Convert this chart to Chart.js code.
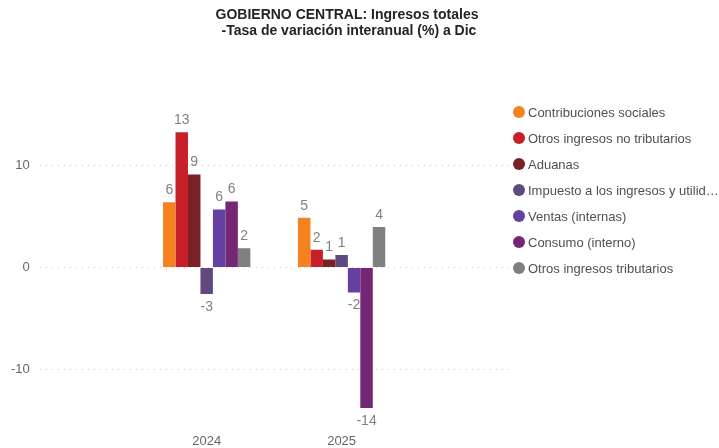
<!DOCTYPE html>
<html>
<head>
<meta charset="utf-8">
<script src="https://cdn.jsdelivr.net/npm/chart.js@4"></script>
<style>
  html, body { margin: 0; padding: 0; background: #fff; }
  #wrap { position: relative; width: 719px; height: 448px; }
  #title {
    position: absolute; left: 0; top: 6px; width: 694px;
    text-align: center; font: bold 14px "Liberation Sans", Arial, sans-serif;
    color: #252423; line-height: 16px;
  }
  #legend {
    position: absolute; left: 513px; top: 99px;
    font: 13px "Liberation Sans", Arial, sans-serif; color: #505050;
  }
  #legend .item { height: 26px; display: flex; align-items: center; white-space: nowrap; }
  #legend .dot { width: 12px; height: 12px; border-radius: 50%; margin-right: 3px; flex: none; }
</style>
</head>
<body>
<div id="wrap">
  <div id="title">GOBIERNO CENTRAL: Ingresos totales<br>&nbsp;-Tasa de variación interanual (%) a Dic</div>
  <canvas id="chart" width="719" height="448"></canvas>
  <div id="legend"></div>
</div>
<script>
// Years on the x axis
const years = [2024, 2025];

// Series names (legend order)
const seriesNames = [
    'Contribuciones sociales',
    'Otros ingresos no tributarios',
    'Aduanas',
    'Impuesto a los ingresos y utilidades',
    'Ventas (internas)',
    'Consumo (interno)',
    'Otros ingresos tributarios'
];

// Annual % change per series, [2024, 2025]
const contribuciones = [6.39, 4.86];
const otrosNoTrib = [13.24, 1.74];
const aduanas = [9.11, 0.79];
const impuestoRenta = [-2.59, 1.22];
const ventas = [5.67, -2.45];
const consumo = [6.46, -13.76];
const otrosTrib = [1.87, 3.97];

const yTicks = [-10, 0, 10];

const colors = ['#F58220', '#C8202A', '#7A2128', '#5E4A7E', '#6441A0', '#742774', '#808083'];
const seriesValues = [contribuciones, otrosNoTrib, aduanas, impuestoRenta, ventas, consumo, otrosTrib];

const FONT = '"Liberation Sans", Arial, sans-serif';

// draws rounded value labels above / below each bar
const valueLabels = {
    id: 'valueLabels',
    afterDatasetsDraw(chart) {
        const ctx = chart.ctx;
        ctx.save();
        ctx.font = '14px ' + FONT;
        ctx.fillStyle = '#808080';
        ctx.textAlign = 'center';
        chart.data.datasets.forEach((ds, i) => {
            const meta = chart.getDatasetMeta(i);
            meta.data.forEach((bar, j) => {
                const v = ds.data[j];
                const txt = String(Math.round(v));
                if (v >= 0) {
                    ctx.textBaseline = 'bottom';
                    ctx.fillText(txt, bar.x, bar.y - 5);
                } else {
                    ctx.textBaseline = 'top';
                    ctx.fillText(txt, bar.x, bar.y + 6);
                }
            });
        });
        ctx.restore();
    }
};

// HTML legend (the built-in one gets capped to a quarter of the width)
function buildLegend() {
    const box = document.getElementById('legend');
    seriesNames.forEach((name, i) => {
        const item = document.createElement('div');
        item.className = 'item';
        const dot = document.createElement('span');
        dot.className = 'dot';
        dot.style.background = colors[i];
        const txt = document.createElement('span');
        txt.textContent = name.length > 32 ? name.slice(0, 32) + '…' : name;
        item.appendChild(dot);
        item.appendChild(txt);
        box.appendChild(item);
    });
}

new Chart(document.getElementById('chart'), {
    type: 'bar',
    data: {
        labels: years,
        datasets: seriesNames.map((name, i) => ({
            label: name,
            data: seriesValues[i],
            backgroundColor: colors[i],
            borderWidth: 0,
            categoryPercentage: 0.647,
            barPercentage: 1
        }))
    },
    options: {
        responsive: false,
        animation: false,
        layout: { padding: { top: 92, left: 1, right: 209, bottom: -6 } },
        plugins: {
            title: { display: false },
            tooltip: { enabled: false },
            legend: { display: false }
        },
        scales: {
            x: {
                type: 'linear',
                offset: false,
                min: 2022.763,
                max: 2026.248,
                grid: { display: false, drawTicks: false },
                border: { display: false },
                afterBuildTicks(scale) {
                    scale.ticks = years.map(v => ({ value: v }));
                },
                ticks: {
                    padding: 5,
                    color: '#666',
                    font: { family: FONT, size: 13 },
                    callback: v => String(v)
                }
            },
            y: {
                min: -15.76,
                max: 17.18,
                afterBuildTicks(scale) {
                    scale.ticks = yTicks.map(v => ({ value: v }));
                },
                grid: { color: '#c8c8c8', lineWidth: 1, drawTicks: false },
                border: { display: false, dash: [1, 5] },
                ticks: {
                    padding: 10,
                    color: '#666',
                    font: { family: FONT, size: 13 }
                }
            }
        }
    },
    plugins: [valueLabels]
});

buildLegend();
</script>
</body>
</html>
